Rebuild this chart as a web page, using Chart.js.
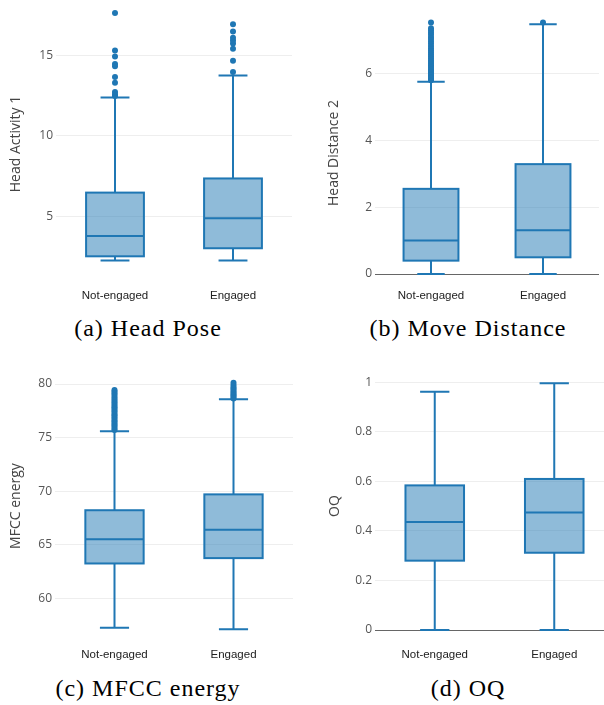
<!DOCTYPE html>
<html>
<head>
<meta charset="utf-8">
<script src="https://cdn.jsdelivr.net/npm/chart.js@4"></script>
<style>
  html, body { margin: 0; padding: 0; background: #fff; }
  body { width: 604px; height: 705px; position: relative; overflow: hidden; }
  canvas { position: absolute; }
  .ytitle {
    position: absolute; font-family: 'Open Sans', sans-serif; font-size: 14px; color: #444;
    white-space: nowrap; transform: translate(-50%, -50%) rotate(-90deg);
  }
  .caption {
    position: absolute; font-family: 'Liberation Serif', serif; font-size: 24px; letter-spacing: 1px;
    color: #000; white-space: nowrap; transform: translate(-50%, -50%);
  }
</style>
</head>
<body>
<canvas id="panelA" width="300" height="310" style="left:0;top:0"></canvas>
<canvas id="panelB" width="304" height="310" style="left:300px;top:0"></canvas>
<canvas id="panelC" width="300" height="310" style="left:0;top:355px"></canvas>
<canvas id="panelD" width="320" height="310" style="left:300px;top:355px"></canvas>

<div class="ytitle" style="left:14px;top:144px">Head Activity 1</div>
<div class="ytitle" style="left:332px;top:153px">Head Distance 2</div>
<div class="ytitle" style="left:14px;top:506px">MFCC energy</div>
<div class="ytitle" style="left:333px;top:506px">OQ</div>

<div class="caption" style="left:148px;top:328px">(a) Head Pose</div>
<div class="caption" style="left:468px;top:328px">(b) Move Distance</div>
<div class="caption" style="left:148px;top:688px">(c) MFCC energy</div>
<div class="caption" style="left:468px;top:688px">(d) OQ</div>

<script>
const categories = ['Not-engaged', 'Engaged'];

// (a) Head Pose — head activity 1
const headLow = [2.24, 2.24];
const headQ1 = [2.50, 3.00];
const headMedian = [3.76, 4.86];
const headQ3 = [6.46, 7.34];
const headHigh = [12.38, 13.74];
const headOutNotEngaged = [12.46, 12.58, 12.72, 13.29, 13.64, 14.31, 14.45, 14.92, 15.30, 17.62];
const headOutEngaged = [13.96, 14.65, 15.41, 15.73, 15.91, 16.08, 16.48, 16.93];
const headTicks = [5, 10, 15];

// (b) Move Distance — head distance 2
const moveLow = [0, 0];
const moveQ1 = [0.40, 0.50];
const moveMedian = [1.00, 1.31];
const moveQ3 = [2.55, 3.29];
const moveHigh = [5.76, 7.48];
const moveOutNotEngaged = [5.80, 5.84, 5.88, 5.93, 5.97, 6.02, 6.06, 6.11, 6.15, 6.20, 6.25, 6.30,
  6.35, 6.40, 6.46, 6.52, 6.58, 6.64, 6.70, 6.76, 6.83, 6.90, 6.97, 7.04, 7.10, 7.17, 7.23, 7.30, 7.36, 7.53];
const moveOutEngaged = [7.53];
const moveTicks = [0, 2, 4, 6];

// (c) MFCC energy
const mfccLow = [57.25, 57.10];
const mfccQ1 = [63.25, 63.75];
const mfccMedian = [65.50, 66.40];
const mfccQ3 = [68.22, 69.70];
const mfccHigh = [75.60, 78.57];
const mfccOutNotEngaged = [75.72, 75.86, 76.03, 76.17, 76.31, 76.48, 76.60, 76.79, 76.92, 77.08, 77.21,
  77.39, 77.52, 77.70, 77.84, 77.98, 78.13, 78.31, 78.46, 78.62, 78.80, 78.97, 79.15, 79.30, 79.44];
const mfccOutEngaged = [78.66, 78.78, 78.90, 79.03, 79.17, 79.29, 79.44, 79.58, 79.73, 79.90, 80.12];
const mfccTicks = [60, 65, 70, 75, 80];

// (d) OQ
const oqLow = [0, 0];
const oqQ1 = [0.280, 0.312];
const oqMedian = [0.436, 0.475];
const oqQ3 = [0.584, 0.610];
const oqHigh = [0.962, 0.996];
const oqOutNotEngaged = [];
const oqOutEngaged = [];
const oqTicks = [0, 0.2, 0.4, 0.6, 0.8, 1];

const BLUE = '#1f77b4';
const FILL = 'rgba(31,119,180,0.5)';

// Whiskers, caps, box outline and median line, drawn right after the box fills
const boxWhiskers = {
  id: 'boxWhiskers',
  afterDatasetDraw(chart, args, opts) {
    if (args.index !== 0) return;
    const y = chart.scales.y;
    const ctx = chart.ctx;
    ctx.save();
    ctx.strokeStyle = BLUE;
    ctx.lineWidth = 2;
    args.meta.data.forEach((bar, i) => {
      const p = bar.getProps(['x', 'y', 'base', 'width'], true);
      const top = Math.min(p.y, p.base), bottom = Math.max(p.y, p.base);
      const hi = y.getPixelForValue(opts.high[i]);
      const lo = y.getPixelForValue(opts.low[i]);
      const med = y.getPixelForValue(opts.median[i]);
      const half = p.width / 2, cap = p.width / 4;
      ctx.beginPath();
      ctx.moveTo(p.x, top); ctx.lineTo(p.x, hi);
      ctx.moveTo(p.x - cap, hi); ctx.lineTo(p.x + cap, hi);
      ctx.moveTo(p.x, bottom); ctx.lineTo(p.x, lo);
      ctx.moveTo(p.x - cap, lo); ctx.lineTo(p.x + cap, lo);
      ctx.moveTo(p.x - half, med); ctx.lineTo(p.x + half, med);
      ctx.stroke();
      ctx.strokeRect(p.x - half, top, p.width, bottom - top);
    });
    ctx.restore();
  }
};

Chart.defaults.font.family = "'Open Sans', sans-serif";

function boxChart(id, s) {
  const outliers = [];
  [s.outNotEngaged, s.outEngaged].forEach((list, i) => {
    list.forEach(v => outliers.push({ x: categories[i], y: v }));
  });
  return new Chart(document.getElementById(id), {
    type: 'bar',
    data: {
      labels: categories,
      datasets: [
        {
          data: categories.map((c, i) => [s.q1[i], s.q3[i]]),
          backgroundColor: FILL,
          borderWidth: 0,
          barPercentage: 0.49,
          categoryPercentage: 1,
          order: 1
        },
        {
          type: 'line',
          data: outliers,
          showLine: false,
          pointRadius: 3,
          pointHoverRadius: 3,
          pointBackgroundColor: BLUE,
          pointBorderWidth: 0,
          clip: false,
          order: 0
        }
      ]
    },
    options: {
      responsive: false,
      animation: false,
      devicePixelRatio: 1,
      events: [],
      layout: { padding: { top: s.padTop, right: s.padRight, bottom: 0, left: 0 } },
      plugins: {
        legend: { display: false },
        tooltip: { enabled: false },
        boxWhiskers: { low: s.low, median: s.median, high: s.high }
      },
      scales: {
        x: {
          type: 'category',
          grid: { display: false, drawTicks: false },
          border: { display: false },
          ticks: {
            padding: s.xPad,
            color: '#222',
            font: { family: "'Liberation Sans', Arial, sans-serif", size: 11.5 }
          },
          afterFit: sc => { sc.height = s.xHeight; }
        },
        y: {
          min: s.min,
          max: s.max,
          afterBuildTicks: sc => { sc.ticks = s.ticks.map(v => ({ value: v })); },
          afterFit: sc => { sc.width = s.yWidth; },
          grid: {
            drawTicks: false,
            lineWidth: 1,
            color: c => (s.zeroLine && c.tick && c.tick.value === 0) ? '#666' : '#eee'
          },
          border: { display: false },
          ticks: {
            padding: 3,
            color: '#555',
            font: { size: 12 },
            callback: v => String(Number(v.toFixed(4)))
          }
        }
      }
    },
    plugins: [boxWhiskers]
  });
}

boxChart('panelA', {
  low: headLow, q1: headQ1, median: headMedian, q3: headQ3, high: headHigh,
  outNotEngaged: headOutNotEngaged, outEngaged: headOutEngaged, ticks: headTicks,
  min: 1.4, max: 17.8, zeroLine: false,
  padTop: 5, padRight: 8, yWidth: 56, xHeight: 36, xPad: 15
});
boxChart('panelB', {
  low: moveLow, q1: moveQ1, median: moveMedian, q3: moveQ3, high: moveHigh,
  outNotEngaged: moveOutNotEngaged, outEngaged: moveOutEngaged, ticks: moveTicks,
  min: 0, max: 7.9, zeroLine: true,
  padTop: 5, padRight: 5, yWidth: 75, xHeight: 36, xPad: 15
});
boxChart('panelC', {
  low: mfccLow, q1: mfccQ1, median: mfccMedian, q3: mfccQ3, high: mfccHigh,
  outNotEngaged: mfccOutNotEngaged, outEngaged: mfccOutEngaged, ticks: mfccTicks,
  min: 57.04, max: 81.31, zeroLine: false,
  padTop: 15, padRight: 7, yWidth: 55, xHeight: 35, xPad: 18
});
boxChart('panelD', {
  low: oqLow, q1: oqQ1, median: oqMedian, q3: oqQ3, high: oqHigh,
  outNotEngaged: oqOutNotEngaged, outEngaged: oqOutEngaged, ticks: oqTicks,
  min: 0, max: 1.05, zeroLine: true,
  padTop: 15, padRight: 6, yWidth: 75, xHeight: 35, xPad: 18
});
</script>
</body>
</html>
